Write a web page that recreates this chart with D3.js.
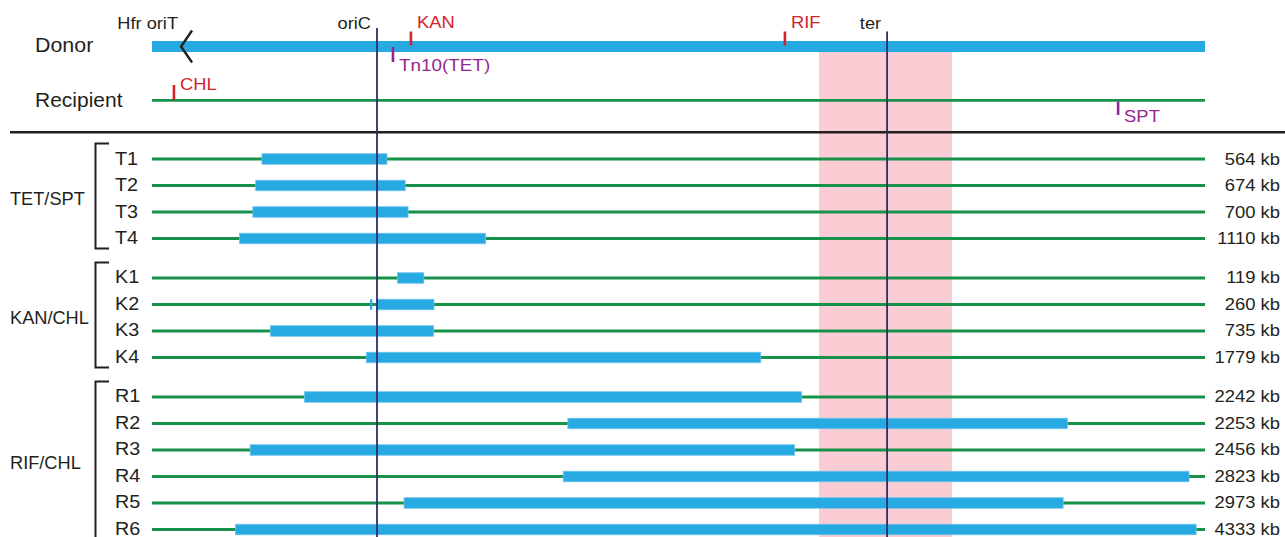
<!DOCTYPE html>
<html>
<head>
<meta charset="utf-8">
<script src="https://cdn.jsdelivr.net/npm/d3@7"></script>
<style>
  html, body { margin: 0; padding: 0; background: #fff; }
  svg { display: block; }
  text { font-family: "Liberation Sans", Arial, Helvetica, sans-serif; fill: #231f20; }
</style>
</head>
<body>
<svg id="chart" width="1285" height="537"></svg>
<script>
// Chromosome coordinate span (kb) drawn across the map
const genomeKb = 4750;

// Landmarks on the donor chromosome (kb from the left end)
const landmarkNames = ["Hfr oriT", "oriC", "ter"];
const landmarkKb = [131, 1015, 3316];

// Highlighted region around the terminus (kb)
const terRegionKb = [3009, 3609];

// Selectable markers
const donorMarkerNames = ["KAN", "Tn10(TET)", "RIF"];
const donorMarkerKb = [1168, 1087, 2855];
const recipientMarkerNames = ["CHL", "SPT"];
const recipientMarkerKb = [99, 4358];

// Transconjugants: groups, rows, donor segment start and transferred length
const groupNames = ["TET/SPT", "KAN/CHL", "RIF/CHL"];
const groupSizes = [4, 4, 6];
const rowNames = ["T1", "T2", "T3", "T4", "K1", "K2", "K3", "K4", "R1", "R2", "R3", "R4", "R5", "R6"];
const segmentStartKb = [496, 468, 455, 395, 1107, 1012, 535, 967, 688, 1876, 443, 1855, 1137, 377];
const transferKb = [564, 674, 700, 1110, 119, 260, 735, 1779, 2242, 2253, 2456, 2823, 2973, 4333];

// Short extra donor fragment seen in one transconjugant
const fragmentRows = ["K2"];
const fragmentKb = [988];

const C = {
  blue: "#27a9e1", blueEdge: "#6cc3ec", green: "#17924a", red: "#d2232a",
  purple: "#92278f", navy: "#2c2d6c", pink: "#f9cdd3", black: "#231f20"
};

const svg = d3.select("#chart");
const x = d3.scaleLinear().domain([0, genomeKb]).range([152, 1205]);

// Row positions: one unit per row, half-unit gap between groups
const gapUnits = 0.49;
const rowGroupIdx = [];
groupSizes.forEach((n, g) => { for (let i = 0; i < n; i++) rowGroupIdx.push(g); });
const rowUnit = rowNames.map((_, i) => i + rowGroupIdx[i] * gapUnits);
const y = d3.scaleLinear().domain([0, rowNames.length - 1 + (groupSizes.length - 1) * gapUnits]).range([159, 529.5]);

const donorY = 46.5, recipY = 100.3;
const barH = 10.5;

// Text helper: slightly widened lettering
function label(parent, tx, ty, str, size, sx, anchor, color) {
  const t = parent.append("text")
    .attr("transform", `translate(${tx},${ty}) scale(${sx},1)`)
    .attr("font-size", size)
    .attr("text-anchor", anchor || "start")
    .text(str);
  if (color) t.style("fill", color);
  return t;
}

// Pink terminus region
svg.append("rect")
  .attr("x", x(terRegionKb[0])).attr("y", donorY + 5.5)
  .attr("width", x(terRegionKb[1]) - x(terRegionKb[0]))
  .attr("height", 537 - donorY)
  .attr("fill", C.pink);

// Strain labels
label(svg, 35, 52, "Donor", 20, 1.07);
label(svg, 35, 106.5, "Recipient", 20, 1.05);

// Donor chromosome
svg.append("rect")
  .attr("x", x(0)).attr("y", donorY - 5.5)
  .attr("width", x(genomeKb) - x(0)).attr("height", 11)
  .attr("fill", C.blue);

// Recipient chromosome
svg.append("line")
  .attr("x1", x(0)).attr("x2", x(genomeKb))
  .attr("y1", recipY).attr("y2", recipY)
  .attr("stroke", C.green).attr("stroke-width", 2.8);

// Hfr origin of transfer chevron
const oriTx = x(landmarkKb[0]);
svg.append("path")
  .attr("d", `M${oriTx + 11},${donorY - 16} L${oriTx},${donorY} L${oriTx + 11},${donorY + 16}`)
  .attr("fill", "none").attr("stroke", C.black).attr("stroke-width", 2.4);
label(svg, oriTx - 3, 29, landmarkNames[0], 16, 1.14, "end");

// Donor markers
const donorMarkers = donorMarkerNames.map((n, i) => ({ name: n, kb: donorMarkerKb[i], below: n.startsWith("Tn10") }));
donorMarkers.forEach(m => {
  const mx = x(m.kb);
  const col = m.below ? C.purple : C.red;
  svg.append("line").attr("x1", mx).attr("x2", mx)
    .attr("y1", m.below ? 47 : 31.5).attr("y2", m.below ? 62 : 45.5)
    .attr("stroke", col).attr("stroke-width", 2.6);
  label(svg, mx + 6, m.below ? 71 : 28, m.name, 16, m.below ? 1.18 : 1.15, "start", col);
});

// Recipient markers
recipientMarkerNames.forEach((n, i) => {
  const mx = x(recipientMarkerKb[i]);
  const above = i === 0;
  const col = above ? C.red : C.purple;
  svg.append("line").attr("x1", mx).attr("x2", mx)
    .attr("y1", above ? 85 : 101.5).attr("y2", above ? 100 : 115)
    .attr("stroke", col).attr("stroke-width", 2.6);
  label(svg, mx + 6, above ? 89.5 : 121.5, n, 16, 1.15, "start", col);
});

// Separator between parents and transconjugants
svg.append("line").attr("x1", 10).attr("x2", 1285).attr("y1", 132.3).attr("y2", 132.3)
  .attr("stroke", C.black).attr("stroke-width", 2.4);

// Transconjugant rows
const rows = rowNames.map((n, i) => ({
  name: n, y: y(rowUnit[i]), start: segmentStartKb[i], len: transferKb[i]
}));

svg.append("g").selectAll("line").data(rows).join("line")
  .attr("x1", x(0)).attr("x2", x(genomeKb))
  .attr("y1", d => d.y).attr("y2", d => d.y)
  .attr("stroke", C.green).attr("stroke-width", 2.8);

svg.append("g").selectAll("rect").data(rows).join("rect")
  .attr("x", d => x(d.start))
  .attr("y", d => d.y - barH / 2)
  .attr("width", d => x(d.start + d.len) - x(d.start))
  .attr("height", barH)
  .attr("fill", C.blue).attr("stroke", C.blueEdge).attr("stroke-width", 0.8);

// Extra fragments
fragmentRows.forEach((r, i) => {
  const row = rows.find(d => d.name === r);
  svg.append("rect").attr("x", x(fragmentKb[i]) - 1).attr("y", row.y - barH / 2)
    .attr("width", 2.2).attr("height", barH).attr("fill", C.blue);
});

// Row labels and transferred lengths
const rowLabels = svg.append("g");
rows.forEach(d => {
  label(rowLabels, 115, d.y + 5.5, d.name, 18, 1.1);
  label(rowLabels, 1280, d.y + 5.5, `${d.len} kb`, 16, 1.15, "end");
});

// Group brackets
let offset = 0;
groupNames.forEach((g, gi) => {
  const first = rows[offset], last = rows[offset + groupSizes[gi] - 1];
  const top = first.y - 15.5, bot = last.y + 10;
  svg.append("path")
    .attr("d", `M109,${top} H95.5 V${bot} H109`)
    .attr("fill", "none").attr("stroke", C.black).attr("stroke-width", 2);
  label(svg, 10, (first.y + last.y) / 2 + 6, g, 17.5, 1.04);
  offset += groupSizes[gi];
});

// oriC and ter reference lines
[[landmarkKb[1], 28], [landmarkKb[2], 31.5]].forEach(([kb, top], i) => {
  const lx = x(kb);
  svg.append("line").attr("x1", lx).attr("x2", lx).attr("y1", top).attr("y2", 537)
    .attr("stroke", C.navy).attr("stroke-width", 1.8);
  label(svg, lx - 6, 29, landmarkNames[i + 1], 16, 1.14, "end");
});
</script>
</body>
</html>
